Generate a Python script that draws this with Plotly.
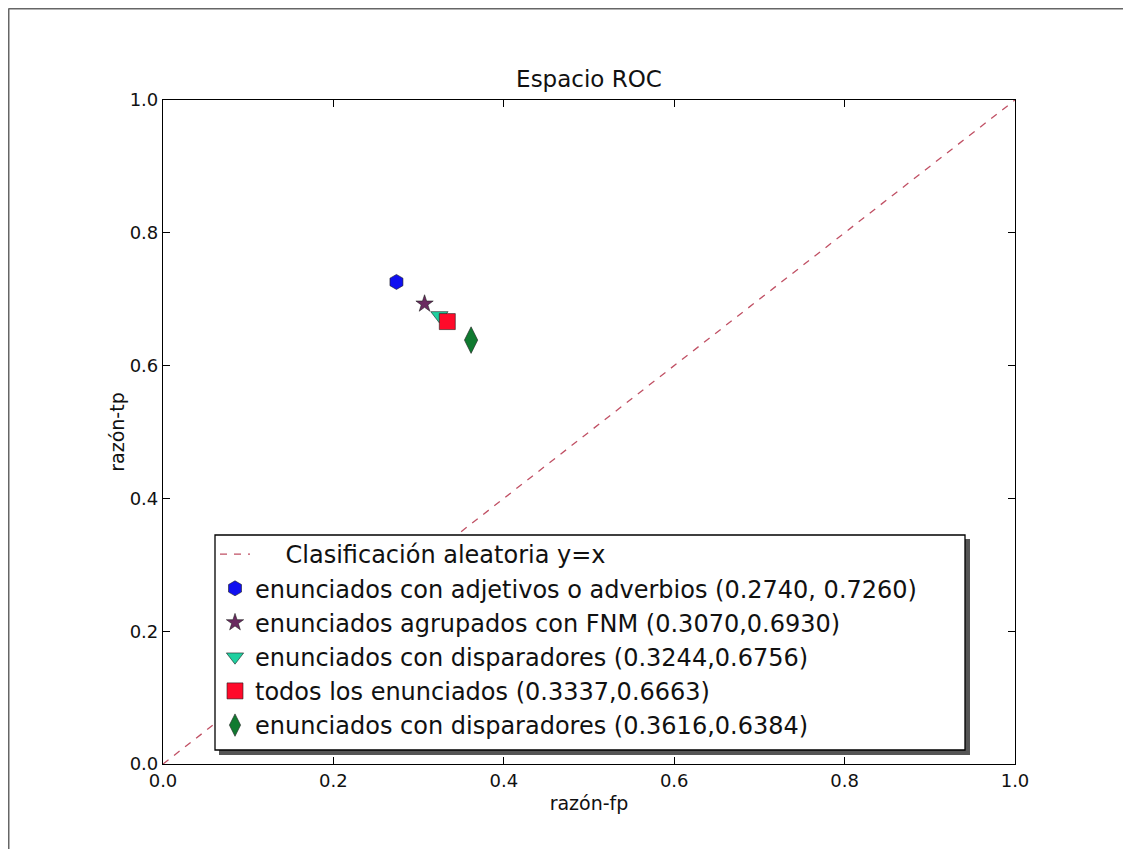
import plotly.graph_objects as go

# ---- data ----
random_x = [0.0, 1.0]
random_y = [0.0, 1.0]
random_name = "\u00a0\u00a0\u00a0\u00a0Clasificación aleatoria y=x"

series_names = [
    "enunciados con adjetivos o adverbios (0.2740, 0.7260)",
    "enunciados agrupados con FNM (0.3070,0.6930)",
    "enunciados con disparadores (0.3244,0.6756)",
    "todos los enunciados (0.3337,0.6663)",
    "enunciados con disparadores (0.3616,0.6384)",
]
fp_rate = [0.2740, 0.3070, 0.3244, 0.3337, 0.3616]
tp_rate = [0.7260, 0.6930, 0.6756, 0.6663, 0.6384]

symbols = ["hexagon", "star", "triangle-down", "square", "diamond-tall"]
colors = ["#1010f0", "#6a2a60", "#20d0a0", "#ff0a2a", "#107a30"]
sizes = [15, 13, 15, 16, 19]

OFF = 8  # page body margin
W, H = 1131 - OFF, 849 - OFF
L, R, T, B = 163 - OFF, 1015 - OFF, 100 - OFF, 764 - OFF

fig = go.Figure()
fig.add_trace(go.Scatter(
    x=random_x, y=random_y, mode="lines", name=random_name,
    line=dict(color="#c05064", width=1.3, dash="7px,7px"),
))
for n, xv, yv, s, c, sz in zip(series_names, fp_rate, tp_rate, symbols, colors, sizes):
    fig.add_trace(go.Scatter(
        x=[xv], y=[yv], mode="markers", name=n,
        marker=dict(symbol=s, color=c, size=sz, line=dict(color="#202020", width=0.6)),
    ))

def px2x(px):
    return (px - OFF - L) / (R - L)

def py2y(py):
    return (B - (py - OFF)) / (B - T)

# legend shadow and frame
fig.add_shape(type="rect", xref="paper", yref="paper",
              x0=px2x(219), x1=px2x(970), y0=py2y(755), y1=py2y(539),
              fillcolor="#555555", line=dict(width=0), layer="above")
fig.add_shape(type="rect", xref="paper", yref="paper",
              x0=px2x(215), x1=px2x(965), y0=py2y(750), y1=py2y(535),
              fillcolor="white", line=dict(color="black", width=1.3), layer="above")
# outer image frame (left & top)
fig.add_shape(type="line", xref="paper", yref="paper",
              x0=px2x(8.5), x1=px2x(8.5), y0=py2y(849), y1=py2y(8.5),
              line=dict(color="#666666", width=2))
fig.add_shape(type="line", xref="paper", yref="paper",
              x0=px2x(8.5), x1=px2x(1131), y0=py2y(8.5), y1=py2y(8.5),
              line=dict(color="#666666", width=2))

axis_common = dict(
    range=[0, 1], dtick=0.2, tickformat=".1f",
    showgrid=False, zeroline=False,
    showline=True, linecolor="black", linewidth=1.2, mirror="ticks",
    ticks="inside", ticklen=7, tickcolor="black",
    tickfont=dict(family="DejaVu Sans", size=18, color="#111111"),
)

fig.update_layout(
    width=W, height=H,
    margin=dict(l=L, r=W - R, t=T, b=H - B),
    paper_bgcolor="white", plot_bgcolor="white",
    title=dict(text="Espacio ROC", x=(589 - OFF) / W, xanchor="center",
               y=1 - (79 - OFF) / H, yanchor="middle",
               font=dict(family="DejaVu Sans", size=23, color="#111111")),
    xaxis=dict(axis_common, title=dict(text="razón-fp", standoff=6,
               font=dict(family="DejaVu Sans", size=19, color="#111111"))),
    yaxis=dict(axis_common, title=dict(text="razón-tp", standoff=0,
               font=dict(family="DejaVu Sans", size=19, color="#111111"))),
    showlegend=True,
    legend=dict(
        x=px2x(215), y=py2y(532), xanchor="left", yanchor="top",
        bgcolor="rgba(0,0,0,0)", borderwidth=0,
        font=dict(family="DejaVu Sans", size=24, color="#111111"),
        itemwidth=30, tracegroupgap=0,
    ),
)

fig.write_html("out.html")
